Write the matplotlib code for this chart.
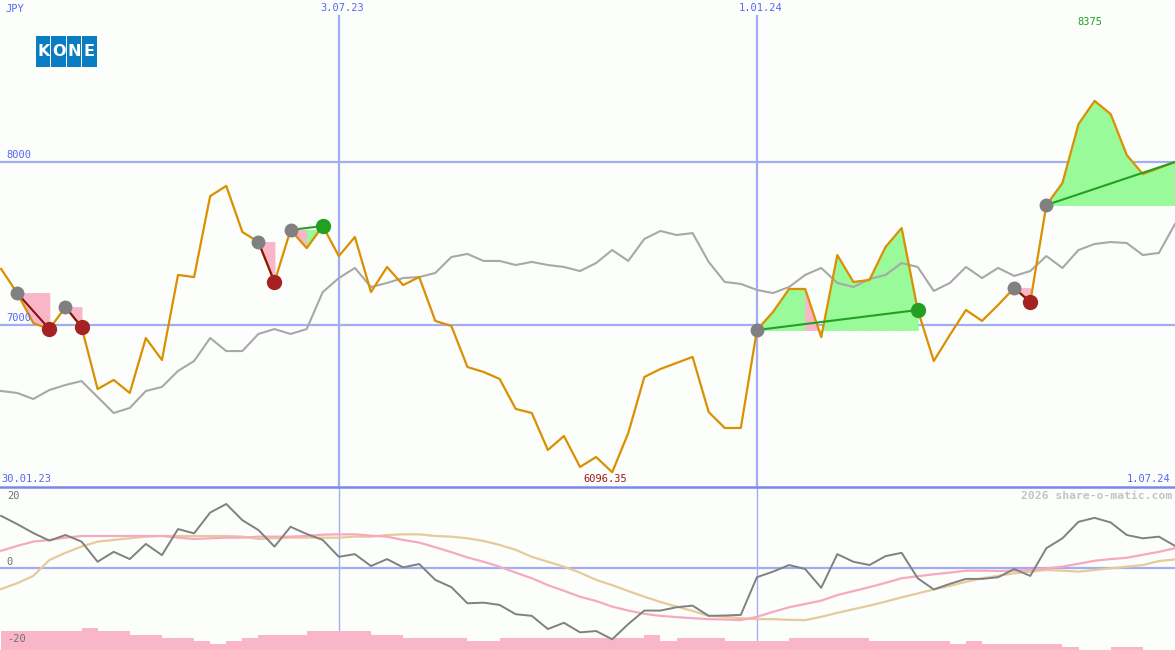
import matplotlib
matplotlib.use('Agg')
import matplotlib.pyplot as plt
import matplotlib.transforms as mtransforms
from matplotlib.patches import Rectangle
from matplotlib.lines import Line2D
import pandas as pd

# ---------------- data ----------------
dates = pd.date_range('2023-02-06', periods=74, freq='W-MON')

price = [7344, 7196, 7012, 6975, 7110, 6988, 6607, 6663, 6583, 6920,
         6785, 7307, 7294, 7791, 7853, 7571, 7509, 7264, 7583, 7472,
         7607, 7423, 7540, 7202, 7356, 7245, 7294, 7025, 6994, 6742,
         6712, 6669, 6485, 6460, 6233, 6319, 6129, 6190, 6096.35, 6337,
         6681, 6730, 6767, 6804, 6466, 6368, 6368, 6969, 7080, 7221,
         7221, 6926, 7429, 7264, 7276, 7479, 7595, 7092, 6779, 6939,
         7092, 7025, 7123, 7227, 7141, 7736, 7871, 8233, 8375, 8294,
         8043, 7926, 7963, 8000]

benchmark = [6595, 6583, 6546, 6601, 6632, 6656, 6558, 6460, 6491, 6595,
             6620, 6718, 6779, 6920, 6840, 6840, 6945, 6975, 6945, 6975,
             7202, 7288, 7350, 7233, 7258, 7288, 7294, 7319, 7417, 7436,
             7393, 7393, 7368, 7387, 7368, 7356, 7331, 7380, 7460, 7393,
             7528, 7577, 7552, 7564, 7387, 7264, 7252, 7215, 7196, 7233,
             7307, 7350, 7258, 7233, 7282, 7307, 7380, 7356, 7209, 7258,
             7356, 7288, 7350, 7301, 7331, 7423, 7350, 7460, 7497, 7509,
             7503, 7429, 7442, 7620]

momentum = [15.8, 13.3, 10.6, 8.3, 10.0, 8.0, 1.9, 4.9, 2.7, 7.3,
            3.9, 11.8, 10.5, 16.8, 19.4, 14.5, 11.5, 6.5, 12.5, 10.3,
            8.5, 3.4, 4.2, 0.6, 2.7, 0.2, 1.2, -3.6, -5.8, -10.7,
            -10.5, -11.2, -14.0, -14.5, -18.5, -16.6, -19.5, -19.1, -21.6, -17.0,
            -12.9, -12.9, -11.9, -11.4, -14.5, -14.4, -14.2, -2.8, -1.1, 0.9,
            -0.3, -6.0, 4.2, 1.9, 0.9, 3.6, 4.6, -3.1, -6.5, -4.8,
            -3.3, -3.3, -2.8, -0.3, -2.4, 6.0, 9.0, 14.0, 15.2, 13.8,
            10.0, 9.0, 9.5, 6.7]

ma_fast = [5.2, 6.7, 8.0, 8.5, 9.2, 9.7, 9.7, 9.7, 9.7, 9.7,
           9.7, 9.2, 8.8, 9.0, 9.2, 9.2, 9.5, 9.5, 9.5, 9.7,
           10.1, 10.2, 10.2, 9.8, 9.5, 8.5, 7.7, 6.3, 4.8, 3.2,
           1.9, 0.4, -1.4, -3.1, -5.2, -6.9, -8.7, -10.0, -11.7, -12.9,
           -13.9, -14.5, -14.9, -15.2, -15.5, -15.6, -15.8, -14.8, -13.3, -11.9,
           -10.9, -9.9, -8.2, -7.0, -5.8, -4.5, -3.1, -2.5, -1.9, -1.4,
           -0.8, -0.8, -0.9, -0.8, -0.6, -0.1, 0.4, 1.3, 2.2, 2.7,
           3.1, 4.0, 4.9, 6.0]

ma_slow = [-6.4, -4.6, -2.4, 2.4, 4.6, 6.5, 8.0, 8.5, 9.0, 9.5,
           9.7, 9.7, 9.7, 9.7, 9.7, 9.5, 8.8, 9.0, 9.2, 9.2,
           9.2, 9.2, 9.5, 9.5, 10.0, 10.2, 10.2, 9.7, 9.5, 9.0,
           8.2, 7.0, 5.5, 3.4, 1.9, 0.4, -1.4, -3.6, -5.2, -7.0,
           -8.7, -10.3, -11.7, -13.0, -14.5, -14.8, -15.2, -15.5, -15.5, -15.7,
           -15.8, -14.8, -13.6, -12.5, -11.4, -10.2, -8.9, -7.7, -6.5, -5.4,
           -4.2, -3.1, -2.4, -1.6, -1.1, -0.6, -0.8, -1.1, -0.6, -0.1,
           0.4, 0.9, 2.1, 2.6]

volume = [19, 19, 19, 19, 19, 22, 19, 19, 15, 15,
          12, 12, 9, 6, 9, 12, 15, 15, 15, 19,
          19, 19, 19, 15, 15, 12, 12, 12, 12, 9,
          9, 12, 12, 12, 12, 12, 12, 12, 12, 12,
          15, 9, 12, 12, 12, 9, 9, 9, 9, 12,
          12, 12, 12, 12, 9, 9, 9, 9, 9, 6,
          9, 6, 6, 6, 6, 6, 3, 0, 0, 3,
          3, 0, 0]

# trades: (entry index, exit index or None for open position)
trades = [(1, 3), (4, 5), (16, 17), (18, 20), (47, 57), (63, 64), (65, None)]

marked_dates = ['2023-07-03', '2024-01-01']
start_label = '30.01.23'
end_label = '1.07.24'

# ---------------- styling ----------------
BG = '#FBFEFB'
GRID = '#A3AEF2'
BLUE_TXT = '#5865F2'
ORANGE = '#DA9000'
GREY_LINE = '#A8A8A8'
PINK = '#F9B6C9'
GREEN_FILL = '#98FA98'
GREEN = '#22A022'
DARKRED = '#A52222'
MONO = 'DejaVu Sans Mono'

W, H = 1175, 650
fig = plt.figure(figsize=(W / 100, H / 100), dpi=100, facecolor=BG)

split = 163 / H
ax = fig.add_axes([0, split, 1, 1 - split], facecolor=BG)
axl = fig.add_axes([0, 0, 1, split], facecolor=BG)
for a in (ax, axl):
    for s in a.spines.values():
        s.set_visible(False)
    a.set_xticks([])
    a.set_yticks([])
    a.set_xlim(-0.07, 73.0)

ax.set_ylim(6006, 8994)
axl.set_ylim(-24.85, 24.55)

idx = list(range(len(price)))
date_idx = {d.strftime('%Y-%m-%d'): i for i, d in enumerate(dates)}

# ---------- main panel grid ----------
for lvl in (7000, 8000):
    ax.axhline(lvl, color=GRID, lw=1.6, zorder=1)
    ax.text(0.35, lvl + 15, str(lvl), color=BLUE_TXT, fontsize=7.5,
            family=MONO, va='bottom', ha='left', zorder=6)

top_frac = (487 - 16) / 487
for d in marked_dates:
    k = date_idx[d]
    ax.axvline(k, ymin=0, ymax=top_frac, color=GRID, lw=1.6, zorder=1)
    axl.axvline(k, color=GRID, lw=1.0, zorder=1)
    lab = f"{dates[k].day}.{dates[k].strftime('%m.%y')}"
    ax.text(k + 0.2, 1 - 8 / 487, lab, color=BLUE_TXT, fontsize=7.5, family=MONO,
            ha='center', va='center',
            transform=mtransforms.blended_transform_factory(ax.transData, ax.transAxes))

# ---------- trade fills ----------
for e, x in trades:
    end = x if x is not None else len(price) - 1
    entry = price[e]
    for k in range(e, end):
        col = GREEN_FILL if price[k + 1] >= entry else PINK
        ax.fill_between([k, k + 1], [price[k], price[k + 1]], [entry, entry],
                        facecolor=col, edgecolor=col, lw=0.6, zorder=2)

# ---------- lines ----------
ax.plot(idx, benchmark, color=GREY_LINE, lw=1.5, zorder=3)
ax.plot(idx, price, color=ORANGE, lw=1.6, zorder=4)

for e, x in trades:
    end = x if x is not None else len(price) - 1
    win = price[end] >= price[e]
    ax.plot([e, end], [price[e], price[end]], color=GREEN if win else '#8B1010',
            lw=1.5, zorder=5)
    ax.plot(e, price[e], 'o', ms=9, color='#808080', mec='#808080', zorder=6)
    if x is not None:
        ax.plot(x, price[x], 'o', ms=10, color=GREEN if win else DARKRED,
                mec=GREEN if win else DARKRED, zorder=6)

# ---------- main panel labels ----------
btm = mtransforms.blended_transform_factory(ax.transData, ax.transAxes)
kmax = max(idx, key=lambda i: price[i])
kmin = min(idx, key=lambda i: price[i])
ax.text(kmax - 0.3, 1 - 22 / 487, f"{price[kmax]:g}", color=GREEN, fontsize=7.5,
        family=MONO, ha='center', va='center', transform=btm)
ax.text(kmin - 0.45, 8 / 487, f"{price[kmin]:.2f}", color='#A01818', fontsize=7.5,
        family=MONO, ha='center', va='center', transform=btm)
ax.text(0, 8 / 487, start_label, color=BLUE_TXT, fontsize=7.5, family=MONO,
        ha='left', va='center', transform=btm)
ax.text(72.7, 8 / 487, end_label, color=BLUE_TXT, fontsize=7.5, family=MONO,
        ha='right', va='center', transform=btm)

fig.text(5 / W, 1 - 9 / H, 'JPY', color=BLUE_TXT, fontsize=7.5, family=MONO,
         ha='left', va='center')

# KONE logo
for i, ch in enumerate('KONE'):
    x0 = 36 + i * 15.4
    fig.add_artist(Rectangle((x0 / W, 1 - 67 / H), 14.4 / W, 31 / H,
                             transform=fig.transFigure, color='#0A7CC2', lw=0))
    fig.text((x0 + 7.2) / W, 1 - 51.5 / H, ch, color='white', fontsize=11.5,
             fontweight='bold', family='DejaVu Sans', ha='center', va='center')

# divider
fig.add_artist(Line2D([0, 1], [split, split], transform=fig.transFigure,
                      color='#7A88EE', lw=1.8))

# ---------- lower panel ----------
vol_unit = 1 / 3.3
ybot = axl.get_ylim()[0]
axl.bar(range(len(volume)), [v * vol_unit for v in volume], width=1.0, align='edge',
        bottom=ybot, color=PINK, lw=0, zorder=1)
axl.axhline(0, color=GRID, lw=1.6, zorder=2)
axl.plot(idx, ma_slow, color='#E6CB9A', lw=1.6, zorder=3)
axl.plot(idx, ma_fast, color='#F7A9C1', lw=1.6, zorder=3)
axl.plot(idx, momentum, color='#808080', lw=1.4, zorder=4)

for val, txt in ((20.2, '20'), (0.2, '0'), (-21.6, '-20')):
    axl.text(0.35, val, txt, color='#707070', fontsize=7.5, family=MONO,
             ha='left', va='bottom' if txt != '-20' else 'center')
axl.text(72.85, 21.8, '2026 share-o-matic.com', color='#C4C4C4', fontsize=8.2,
         family=MONO, fontweight='bold', ha='right', va='center')

fig.savefig('out.png', dpi=100, facecolor=BG)
